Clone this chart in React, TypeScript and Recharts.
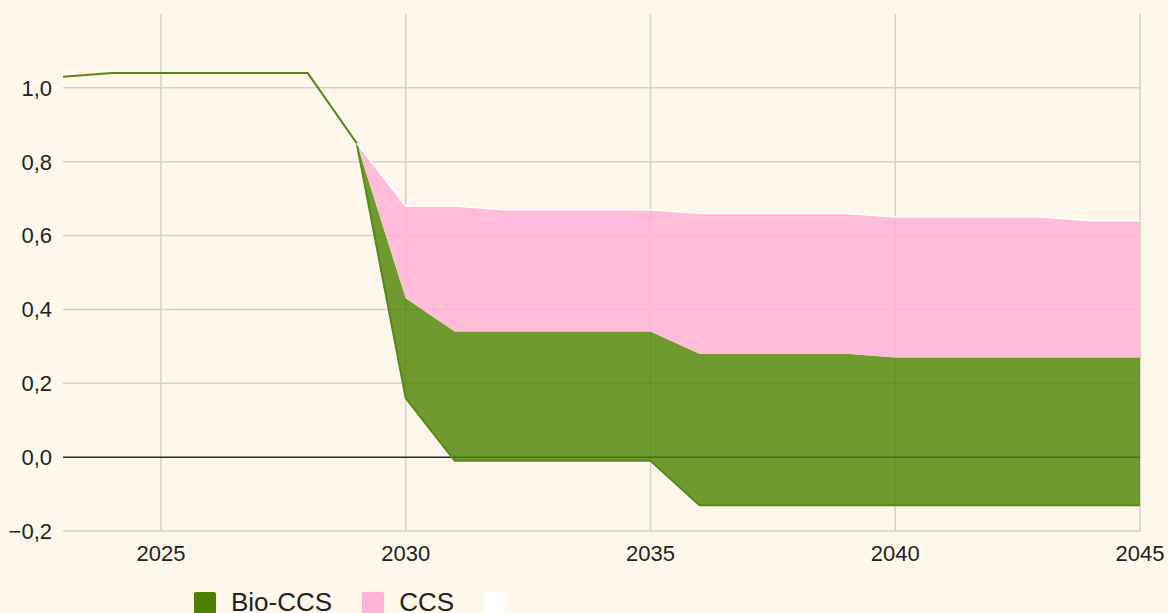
import { ComposedChart, Area, Line, XAxis, YAxis, CartesianGrid, Legend } from 'recharts';

const years = [
  2023, 2024, 2025, 2026, 2027, 2028, 2029, 2030, 2031, 2032, 2033, 2034,
  2035, 2036, 2037, 2038, 2039, 2040, 2041, 2042, 2043, 2044, 2045,
];
// netto (bottom edge of the green band, and the line before 2029)
const netValues = [
  1.03, 1.04, 1.04, 1.04, 1.04, 1.04, 0.85, 0.16, -0.01, -0.01, -0.01, -0.01,
  -0.01, -0.13, -0.13, -0.13, -0.13, -0.13, -0.13, -0.13, -0.13, -0.13, -0.13,
];
const bioCcsValues = [
  null, null, null, null, null, null, 0, 0.27, 0.35, 0.35, 0.35, 0.35,
  0.35, 0.41, 0.41, 0.41, 0.41, 0.4, 0.4, 0.4, 0.4, 0.4, 0.4,
];
const ccsValues = [
  null, null, null, null, null, null, 0, 0.25, 0.34, 0.33, 0.33, 0.33,
  0.33, 0.38, 0.38, 0.38, 0.38, 0.38, 0.38, 0.38, 0.38, 0.37, 0.37,
];
const xTicks = [2025, 2030, 2035, 2040, 2045];
const yTicks = [-0.2, 0, 0.2, 0.4, 0.6, 0.8, 1.0];

const GREEN = '#4a8200';
const PINK = '#ffb3d6';
const BG = '#fef8ec';
const GRID = '#d5d1c4';

const data = years.map((year, i) => {
  const net = netValues[i];
  const bio = bioCcsValues[i];
  const ccs = ccsValues[i];
  if (bio == null || ccs == null) {
    return { year, net, bio: null, ccs: null, top: null };
  }
  return {
    year,
    net,
    bio: [net, net + bio],
    ccs: [net + bio, net + bio + ccs],
    top: net + bio + ccs,
  };
});

const fmtY = (v: number) => {
  const s = Math.abs(v).toFixed(1).replace('.', ',');
  return v < -0.0001 ? '\u2212' + s : s;
};

const legendItems = [
  { label: 'Bio-CCS', color: GREEN },
  { label: 'CCS', color: PINK },
  { label: '', color: '#ffffff' },
];

function LegendBox() {
  return (
    <div
      style={{
        display: 'flex',
        alignItems: 'flex-start',
        height: 37,
        boxSizing: 'border-box',
        paddingTop: 16,
        paddingLeft: 194,
        fontFamily: '"Liberation Sans", Arial, sans-serif',
        fontSize: 26,
        color: '#222',
        overflow: 'visible',
      }}
    >
      {legendItems.map((it, i) => (
        <div key={i} style={{ display: 'flex', alignItems: 'flex-start', marginRight: 30 }}>
          <span
            style={{
              display: 'inline-block',
              width: 22,
              height: 22,
              borderRadius: 2,
              background: it.color,
              marginRight: it.label ? 15 : 0,
            }}
          />
          {it.label && (
            <span style={{ lineHeight: '26px', position: 'relative', top: -3 }}>{it.label}</span>
          )}
        </div>
      ))}
    </div>
  );
}

export default function App() {
  const tick = { fontSize: 22, fill: '#222', fontFamily: '"Liberation Sans", Arial, sans-serif' };
  return (
    <div style={{ position: 'absolute', left: 0, top: 0, width: 1168, height: 613, background: BG, overflow: 'hidden' }}>
      <ComposedChart width={1168} height={613} data={data} margin={{ top: 14, right: 28, left: 0, bottom: 0 }}>
        <CartesianGrid
          stroke={GRID}
          strokeWidth={1.5}
          horizontalValues={yTicks.filter((t) => t !== 0)}
          verticalValues={xTicks}
        />
        <CartesianGrid stroke="#2a2a2a" strokeWidth={1.5} vertical={false} horizontalValues={[0]} />
        <XAxis
          dataKey="year"
          type="number"
          domain={[2023, 2045]}
          ticks={xTicks}
          tick={tick}
          tickSize={0}
          tickMargin={14}
          axisLine={false}
          height={45}
        />
        <YAxis
          type="number"
          domain={[-0.2, 1.2]}
          ticks={yTicks}
          tickFormatter={fmtY}
          tick={tick}
          tickSize={0}
          tickMargin={11}
          axisLine={false}
          width={63}
          interval={0}
        />
        <Area
          type="linear"
          dataKey="bio"
          name="Bio-CCS"
          fill={GREEN}
          fillOpacity={0.8}
          stroke="none"
          isAnimationActive={false}
        />
        <Area
          type="linear"
          dataKey="ccs"
          name="CCS"
          fill={PINK}
          fillOpacity={0.85}
          stroke="none"
          isAnimationActive={false}
        />
        <Line
          type="linear"
          dataKey="net"
          stroke="#558a14"
          strokeWidth={2}
          dot={false}
          activeDot={false}
          legendType="none"
          isAnimationActive={false}
        />
        <Line
          type="linear"
          dataKey="top"
          stroke="#ffffff"
          strokeWidth={1.5}
          dot={false}
          activeDot={false}
          legendType="none"
          isAnimationActive={false}
        />
        <Legend verticalAlign="bottom" align="left" content={() => <LegendBox />} />
      </ComposedChart>
    </div>
  );
}
